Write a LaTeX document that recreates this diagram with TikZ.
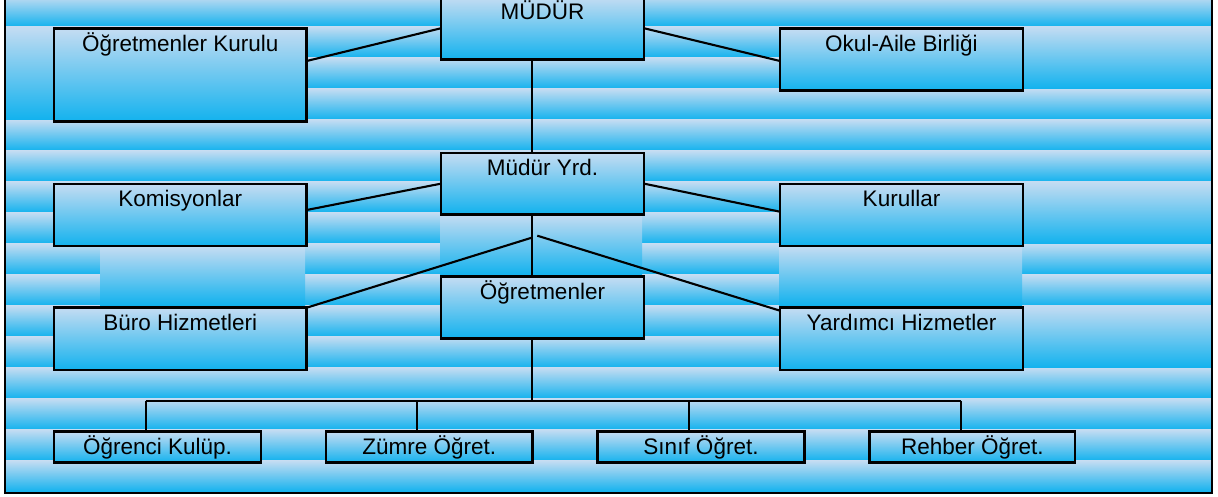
\documentclass[tikz,border=0pt]{standalone}
\usepackage{fontspec}
\setmainfont{Liberation Sans}
\definecolor{bt}{RGB}{196,220,242}
\definecolor{bb}{RGB}{18,178,238}
\begin{document}
\begin{tikzpicture}[x=1pt,y=-1pt,
  grad/.style={top color=bt, bottom color=bb, draw=none},
  box/.style={draw=black, line width=2.6pt, top color=bt, bottom color=bb, inner sep=0pt, outer sep=0pt},
  lbl/.style={font=\fontsize{22.5}{25}\selectfont, anchor=base, inner sep=0pt},
  conn/.style={draw=black, line width=2.1pt}]
\useasboundingbox (0,0) rectangle (1218,497);
\clip (0,0) rectangle (1218,497);
% background bands
\foreach \k in {0,...,15}
  \fill[grad] (5,{-4.3+31*\k}) rectangle (1212,{27.0+31*\k});
% merged background blocks
\fill[grad] (5,26.7) rectangle (54,119.7);
\fill[grad] (1023,26.7) rectangle (1212,88.7);
\fill[grad] (1023,181.7) rectangle (1212,243.7);
\fill[grad] (1023,305.7) rectangle (1212,367.7);
\fill[grad] (100,246.7) rectangle (305,305.2);
\fill[grad] (440,214.5) rectangle (642,275.2);
\fill[grad] (779,246.2) rectangle (1022,305.2);
% frame
\draw[line width=2.6pt] (5,-10) rectangle (1212,493);
% boxes
\node[box, minimum width=203pt, minimum height=62.5pt] (mudur) at (542.5,28.25) {};
\node[box, minimum width=203pt, minimum height=61.3pt] (yrd) at (542.5,183.65) {};
\node[box, minimum width=203pt, minimum height=61.6pt] (ogr) at (542.5,307.5) {};
\node[box, minimum width=252.7pt, minimum height=93pt] (okk) at (180.35,75.2) {};
\node[box, minimum width=243pt, minimum height=62pt] (oab) at (901.5,59.7) {};
\node[box, minimum width=252.7pt, minimum height=62pt] (kom) at (180.35,215) {};
\node[box, minimum width=243pt, minimum height=62pt] (kur) at (901.5,215) {};
\node[box, minimum width=252.7pt, minimum height=62.3pt] (buro) at (180.35,338.85) {};
\node[box, minimum width=243pt, minimum height=62.3pt] (yar) at (901.5,338.85) {};
\node[box, minimum width=207pt, minimum height=31pt] (okl) at (157.5,447.2) {};
\node[box, minimum width=206.7pt, minimum height=31pt] (zum) at (429.35,447.2) {};
\node[box, minimum width=206.6pt, minimum height=31pt] (sin) at (701,447.2) {};
\node[box, minimum width=205.3pt, minimum height=31pt] (reh) at (972.35,447.2) {};
% helper coordinates
\coordinate (spine) at (532.3,0);
\coordinate (fork1) at (531.7,237.7);
\coordinate (fork2) at (537.3,235.7);
\coordinate (bus) at (532.3,400.7);
\coordinate (d1) at (145.7,400.7);
\coordinate (d2) at (417,400.7);
\coordinate (d3) at (689,400.7);
\coordinate (d4) at (961,400.7);
% connectors
\draw[conn] (mudur.west) -- ([yshift=14.2pt]okk.east);
\draw[conn] (mudur.east) -- ([yshift=-1.3pt]oab.west);
\draw[conn] (mudur.south -| spine) -- (yrd.north -| spine);
\draw[conn] (yrd.west) -- ([yshift=5pt]kom.east);
\draw[conn] (yrd.east) -- ([yshift=3.3pt]kur.west);
\draw[conn] (yrd.south -| spine) -- (ogr.north -| spine);
\draw[conn] (fork1) -- (buro.north east);
\draw[conn] (fork2) -- ([yshift=-3pt]yar.north west);
\draw[conn] (ogr.south -| spine) -- (bus);
\draw[conn] (d1) -- (d4);
\draw[conn] (d1) -- (okl.north -| d1);
\draw[conn] (d2) -- (zum.north -| d2);
\draw[conn] (d3) -- (sin.north -| d3);
\draw[conn] (d4) -- (reh.north -| d4);
% labels
\node[lbl] (tmudur) at ([yshift=-23pt]mudur.north) {MÜDÜR};
\node[lbl] (tyrd) at ([yshift=-23pt]yrd.north) {Müdür Yrd.};
\node[lbl] (togr) at ([yshift=-23pt]ogr.north) {Öğretmenler};
\node[lbl] (tokk) at ([yshift=-23pt]okk.north) {Öğretmenler Kurulu};
\node[lbl] (toab) at ([yshift=-23pt]oab.north) {Okul-Aile Birliği};
\node[lbl] (tkom) at ([yshift=-23pt]kom.north) {Komisyonlar};
\node[lbl] (tkur) at ([yshift=-23pt]kur.north) {Kurullar};
\node[lbl] (tburo) at ([yshift=-23pt]buro.north) {Büro Hizmetleri};
\node[lbl] (tyar) at ([yshift=-23pt]yar.north) {Yardımcı Hizmetler};
\node[lbl] (tokl) at ([yshift=-23pt]okl.north) {Öğrenci Kulüp.};
\node[lbl] (tzum) at ([yshift=-23pt]zum.north) {Zümre Öğret.};
\node[lbl] (tsin) at ([yshift=-23pt]sin.north) {Sınıf Öğret.};
\node[lbl] (treh) at ([yshift=-23pt]reh.north) {Rehber Öğret.};
\end{tikzpicture}
\end{document}
